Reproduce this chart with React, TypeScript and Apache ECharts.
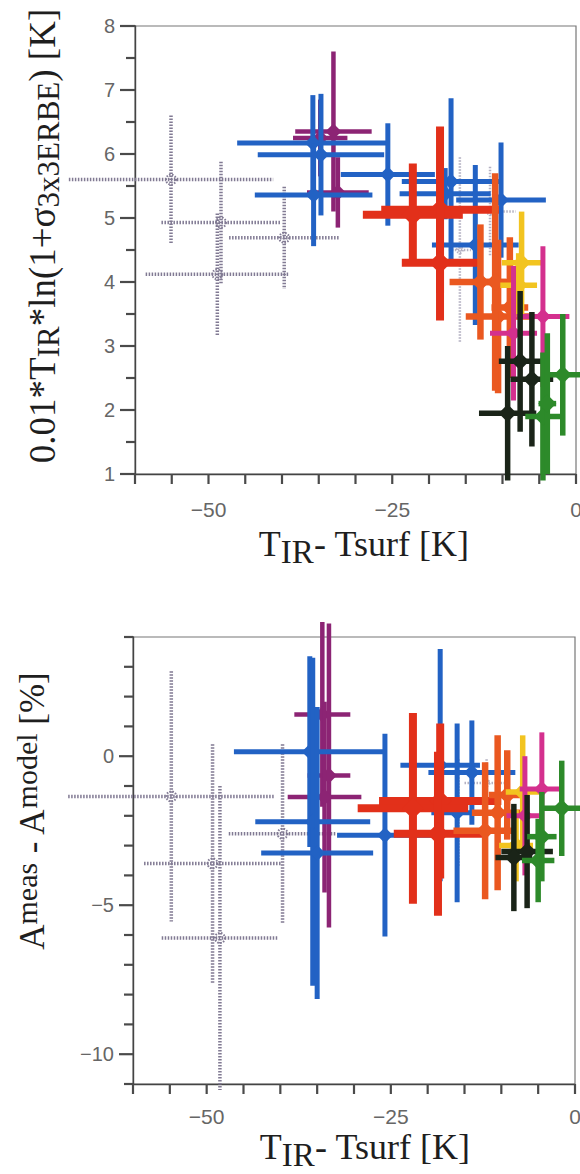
import React, { useEffect, useRef } from "react";
import * as echarts from "echarts";

type Pt = [number, number, number, number]; // x, y, xerr, yerr

// ---- axis ticks and tick labels ----
const xTickValues = [-60, -55, -50, -45, -40, -35, -30, -25, -20, -15, -10, -5, 0];
const xTickLabels = [-50, -25, 0];
const topYMajorTicks = [1, 2, 3, 4, 5, 6, 7, 8];
const topYMinorTicks = [1.5, 2.5, 3.5, 4.5, 5.5, 6.5, 7.5];
const topYTickLabels = [1, 2, 3, 4, 5, 6, 7, 8];
const botYMinorTicks = [-11, -9, -8, -7, -6, -4, -3, -2, -1, 1, 2, 3, 4];
const botYMajorTicks = [-10, -5, 0];
const bottomYTickLabels = [-10, -5, 0];

// ---- top panel data: [T_IR - Tsurf, 0.01*T_IR*ln(1+sigma), xerr, yerr] ----
const topGray: Pt[] = [
  [-55.1, 5.6, 13.9, 1.0],
  [-48.3, 4.93, 8.1, 0.95],
  [-39.7, 4.69, 7.5, 0.8],
  [-48.8, 4.12, 9.75, 0.95],
];
const topLight: Pt[] = [
  [-15.8, 4.5, 1.5, 1.45],
  [-11.7, 5.1, 3.5, 0.7],
];
const topPurple: Pt[] = [
  [-33.0, 6.35, 5.2, 1.25],
  [-34.8, 6.25, 3.7, 0.6],
  [-32.4, 5.4, 4.2, 0.55],
];
const topBlue: Pt[] = [
  [-35.8, 6.17, 10.3, 0.75],
  [-34.7, 5.99, 8.6, 0.95],
  [-35.7, 5.36, 8.0, 0.8],
  [-25.6, 5.68, 6.4, 0.8],
  [-17.0, 5.57, 6.7, 1.3],
  [-17.8, 5.38, 6.2, 0.4],
  [-10.2, 5.28, 6.1, 0.9],
  [-13.7, 4.58, 5.9, 1.25],
];
const topRed: Pt[] = [
  [-18.5, 5.13, 8.0, 1.3],
  [-22.2, 5.05, 6.8, 0.8],
  [-18.5, 4.3, 5.2, 0.9],
];
const topOrange: Pt[] = [
  [-13.0, 4.0, 4.2, 0.9],
  [-10.6, 3.46, 4.4, 1.2],
  [-11.0, 4.0, 1.5, 1.7],
  [-9.0, 3.6, 2.5, 1.1],
];
const topYellow: Pt[] = [
  [-7.4, 4.3, 2.7, 0.8],
  [-7.8, 3.95, 2.5, 0.5],
];
const topMagenta: Pt[] = [
  [-4.5, 3.46, 3.6, 1.1],
  [-8.5, 3.2, 3.2, 1.05],
];
const topBlack: Pt[] = [
  [-7.6, 2.76, 2.9, 1.1],
  [-6.0, 2.48, 2.9, 1.05],
  [-9.3, 1.95, 3.9, 1.05],
];
const topGreen: Pt[] = [
  [-1.8, 2.55, 2.6, 0.95],
  [-4.5, 1.9, 2.4, 1.0],
  [-3.9, 2.1, 1.2, 1.1],
];

// ---- bottom panel data: [T_IR - Tsurf, Ameas - Amodel, xerr, yerr] ----
const botGray: Pt[] = [
  [-54.8, -1.35, 14.0, 4.2],
  [-49.2, -3.6, 9.3, 4.0],
  [-48.2, -6.1, 7.9, 5.1],
  [-39.7, -2.6, 7.3, 3.0],
];
const botLight: Pt[] = [
  [-15.8, -1.9, 1.5, 1.8],
  [-12.0, -0.9, 3.0, 0.8],
];
const botPurple: Pt[] = [
  [-34.3, 1.4, 3.8, 3.1],
  [-33.4, -0.65, 2.9, 5.1],
  [-34.0, -1.37, 5.0, 3.2],
];
const botBlue: Pt[] = [
  [-36.0, 0.15, 10.3, 3.2],
  [-35.6, -2.2, 7.8, 5.5],
  [-35.0, -3.25, 7.6, 4.9],
  [-25.8, -2.65, 6.5, 3.4],
  [-18.3, -0.3, 5.4, 3.9],
  [-16.0, -1.9, 3.5, 3.0],
  [-14.0, -0.55, 5.9, 1.75],
];
const botRed: Pt[] = [
  [-18.3, -1.5, 8.3, 2.6],
  [-22.0, -1.75, 7.5, 3.2],
  [-18.6, -2.6, 6.0, 2.75],
];
const botOrange: Pt[] = [
  [-12.2, -2.5, 4.3, 2.3],
  [-10.5, -1.9, 3.5, 2.6],
  [-9.2, -1.3, 2.5, 1.5],
];
const botYellow: Pt[] = [
  [-7.1, -1.2, 2.3, 1.9],
  [-8.0, -3.0, 2.3, 1.2],
];
const botMagenta: Pt[] = [
  [-4.5, -1.1, 3.0, 1.9],
  [-6.8, -2.0, 2.5, 2.0],
];
const botBlack: Pt[] = [
  [-6.5, -3.2, 3.5, 1.9],
  [-8.3, -3.4, 2.5, 1.8],
];
const botGreen: Pt[] = [
  [-1.8, -1.75, 2.6, 1.6],
  [-5.0, -3.5, 2.2, 1.4],
  [-4.5, -2.7, 2.0, 1.5],
];

const X_MIN = -60;
const TOP_Y_MIN = 1;
const BOT_Y_MIN = -11;

const SERIF = "'Liberation Serif', 'Times New Roman', serif";
const SANS = "'Liberation Sans', Arial, Helvetica, sans-serif";

type Group = {
  name: string;
  color: string;
  width: number;
  dashed: boolean;
  mk: number;
  marker: "diamond" | "ring";
};

const groupStyles: Group[] = [
  { name: "gray", color: "#817a93", width: 3.5, dashed: true, mk: 5, marker: "ring" },
  { name: "light", color: "#b4b1c2", width: 2.5, dashed: true, mk: 3, marker: "ring" },
  { name: "purple", color: "#8c2474", width: 4.5, dashed: false, mk: 8, marker: "diamond" },
  { name: "blue", color: "#2262c4", width: 5, dashed: false, mk: 8, marker: "diamond" },
  { name: "red", color: "#e2301a", width: 8, dashed: false, mk: 11, marker: "diamond" },
  { name: "orange", color: "#ea5820", width: 6.5, dashed: false, mk: 9, marker: "diamond" },
  { name: "yellow", color: "#f2c420", width: 5.5, dashed: false, mk: 9, marker: "diamond" },
  { name: "magenta", color: "#d4308e", width: 5, dashed: false, mk: 8, marker: "diamond" },
  { name: "black", color: "#1a2418", width: 5.5, dashed: false, mk: 9, marker: "diamond" },
  { name: "green", color: "#2d8a2a", width: 5.5, dashed: false, mk: 9, marker: "diamond" },
];

const topData: Pt[][] = [topGray, topLight, topPurple, topBlue, topRed, topOrange, topYellow, topMagenta, topBlack, topGreen];
const botData: Pt[][] = [botGray, botLight, botPurple, botBlue, botRed, botOrange, botYellow, botMagenta, botBlack, botGreen];

function makeRender(g: Group) {
  return (_params: any, api: any) => {
    const x = api.value(0);
    const y = api.value(1);
    const ex = api.value(2);
    const ey = api.value(3);
    const c = api.coord([x, y]);
    const l = api.coord([x - ex, y]);
    const r = api.coord([x + ex, y]);
    const t = api.coord([x, y + ey]);
    const b = api.coord([x, y - ey]);
    const ls: any = { stroke: g.color, lineWidth: g.width, lineCap: "butt" };
    if (g.dashed) ls.lineDash = [1.5, 1.5];
    const children: any[] = [
      { type: "line", shape: { x1: l[0], y1: l[1], x2: r[0], y2: r[1] }, style: ls },
      { type: "line", shape: { x1: t[0], y1: t[1], x2: b[0], y2: b[1] }, style: ls },
    ];
    if (g.marker === "diamond") {
      children.push({
        type: "polygon",
        shape: {
          points: [
            [c[0], c[1] - g.mk],
            [c[0] + g.mk, c[1]],
            [c[0], c[1] + g.mk],
            [c[0] - g.mk, c[1]],
          ],
        },
        style: { fill: g.color },
      });
    } else {
      children.push({
        type: "circle",
        shape: { cx: c[0], cy: c[1], r: g.mk },
        style: { fill: "rgba(255,255,255,0)", stroke: g.color, lineWidth: 2, lineDash: [1.5, 1.5] },
      });
    }
    return { type: "group", children };
  };
}

const fmtMinus = (v: number) => (v < 0 ? "\u2212" + Math.abs(v) : String(v));

export default function App() {
  const ref = useRef<HTMLDivElement>(null);

  useEffect(() => {
    if (!ref.current) return;
    const chart = echarts.init(ref.current, undefined, { renderer: "svg" });

    const series: any[] = [];
    topData.forEach((d, i) => {
      series.push({
        type: "custom",
        name: "top-" + groupStyles[i].name,
        xAxisIndex: 0,
        yAxisIndex: 0,
        data: d,
        encode: { x: 0, y: 1 },
        renderItem: makeRender(groupStyles[i]),
        clip: false,
        silent: true,
        z: 2 + i,
      });
    });
    botData.forEach((d, i) => {
      series.push({
        type: "custom",
        name: "bot-" + groupStyles[i].name,
        xAxisIndex: 1,
        yAxisIndex: 1,
        data: d,
        encode: { x: 0, y: 1 },
        renderItem: makeRender(groupStyles[i]),
        clip: false,
        silent: true,
        z: 2 + i,
      });
    });

    const titleRichN = { fontSize: 36, fontFamily: SERIF, lineHeight: 40, verticalAlign: "top", fill: "#1e1e1e" };
    const titleRichS = { fontSize: 33, fontFamily: SERIF, lineHeight: 33, verticalAlign: "top", padding: [9, 0, 0, 0], fill: "#1e1e1e" };

    const mkX = (gi: number) => ({
      gridIndex: gi,
      type: "value",
      min: -60,
      max: 0,
      interval: 5,
      axisLine: { show: true, onZero: false, lineStyle: { color: "#444", width: 1.4 } },
      axisTick: { show: false },
      axisLabel: {
        show: true,
        color: "#666",
        fontSize: 21,
        fontFamily: SANS,
        margin: gi === 0 ? 25 : 22,
        formatter: (v: number) => (xTickLabels.includes(v) ? fmtMinus(v) : ""),
      },
      splitLine: { show: false },
    });

    const titles: any[] = [
      {
        id: "t-top-y",
        type: "text",
        x: 44,
        y: 236,
        rotation: Math.PI / 2,
        style: {
          text: "{n|0.01*T}{s|IR}{n|*ln(1+σ}{s|3x3ERBE}{n|) [K]}",
          rich: {
            n: { ...titleRichN, fontSize: 37 },
            s: { ...titleRichS, fontSize: 31 },
          },
          align: "center",
          verticalAlign: "middle",
        },
      },
      {
        id: "t-top-x",
        type: "text",
        x: 364,
        y: 546,
        style: {
          text: "{n|T}{s|IR}{n|- Tsurf [K]}",
          rich: { n: titleRichN, s: titleRichS },
          align: "center",
          verticalAlign: "middle",
        },
      },
      {
        id: "t-bot-y",
        type: "text",
        x: 27,
        y: 811,
        rotation: Math.PI / 2,
        style: {
          text: "{n|A}{p|meas}{n| - A}{p|model}{n| [%]}",
          rich: {
            n: { fontSize: 35, fontFamily: SERIF, lineHeight: 40, verticalAlign: "top", padding: [8, 0, 0, 0], fill: "#1e1e1e" },
            p: { fontSize: 30, fontFamily: SERIF, lineHeight: 30, verticalAlign: "top", padding: [4, 0, 0, 0], fill: "#1e1e1e" },
          },
          align: "center",
          verticalAlign: "middle",
        },
      },
      {
        id: "t-bot-x",
        type: "text",
        x: 365,
        y: 1149,
        style: {
          text: "{n|T}{s|IR}{n|- Tsurf [K]}",
          rich: { n: titleRichN, s: titleRichS },
          align: "center",
          verticalAlign: "middle",
        },
      },
    ];

    const option: any = {
      animation: false,
      backgroundColor: "#ffffff",
      grid: [
        { left: 135, right: 4, top: 26, bottom: 700, show: true, borderColor: "#777", borderWidth: 1.2, outerBoundsMode: "none", containLabel: false },
        { left: 133, right: 5, top: 637, bottom: 90, show: true, borderColor: "#777", borderWidth: 1.2, outerBoundsMode: "none", containLabel: false },
      ],
      xAxis: [mkX(0), mkX(1)],
      yAxis: [
        {
          gridIndex: 0,
          type: "value",
          min: 1,
          max: 8,
          interval: 1,
          axisLine: { show: true, onZero: false, lineStyle: { color: "#444", width: 1.4 } },
          axisTick: { show: false },
          axisLabel: {
            show: true,
            color: "#666",
            fontSize: 20,
            fontFamily: SANS,
            margin: 20,
            formatter: (v: number) => (topYTickLabels.includes(v) ? String(v) : ""),
          },
          splitLine: { show: false },
        },
        {
          gridIndex: 1,
          type: "value",
          min: -11,
          max: 4,
          interval: 1,
          axisLine: { show: true, onZero: false, lineStyle: { color: "#444", width: 1.4 } },
          axisTick: { show: false },
          axisLabel: {
            show: true,
            color: "#666",
            fontSize: 20,
            fontFamily: SANS,
            margin: 19,
            formatter: (v: number) => (bottomYTickLabels.includes(v) ? fmtMinus(v) : ""),
          },
          splitLine: { show: false },
        },
      ],
      graphic: titles,
      series,
    };

    chart.setOption(option);

    // tick marks: positions come from the axes' own scales via convertToPixel
    const ticks: any[] = [];
    const W = 2.2;
    const addX = (ai: number, yMin: number, len: number) => {
      xTickValues.forEach((v, k) => {
        const p = chart.convertToPixel({ xAxisIndex: ai, yAxisIndex: ai } as any, [v, yMin]) as any;
        if (!p) return;
        ticks.push({
          id: `tx-${ai}-${k}`,
          type: "rect",
          shape: { x: p[0] - W / 2, y: p[1], width: W, height: len },
          style: { fill: "#4a4a4a" },
          silent: true,
          z: 50,
        });
      });
    };
    const addY = (ai: number, vals: number[], len: number, tag: string) => {
      vals.forEach((v, k) => {
        const p = chart.convertToPixel({ xAxisIndex: ai, yAxisIndex: ai } as any, [X_MIN, v]) as any;
        if (!p) return;
        ticks.push({
          id: `ty-${tag}-${k}`,
          type: "rect",
          shape: { x: p[0] - len, y: p[1] - W / 2, width: len, height: W },
          style: { fill: "#4a4a4a" },
          silent: true,
          z: 50,
        });
      });
    };
    addX(0, TOP_Y_MIN, 10);
    addX(1, BOT_Y_MIN, 10);
    addY(0, topYMajorTicks, 15, "tM");
    addY(0, topYMinorTicks, 9, "tm");
    addY(1, botYMajorTicks, 14, "bM");
    addY(1, botYMinorTicks, 9, "bm");

    chart.setOption({ graphic: [...titles, ...ticks] });

    return () => {
      chart.dispose();
    };
  }, []);

  return (
    <div
      ref={ref}
      style={{ position: "absolute", left: 0, top: 0, width: 580, height: 1174, background: "#fff" }}
    />
  );
}
